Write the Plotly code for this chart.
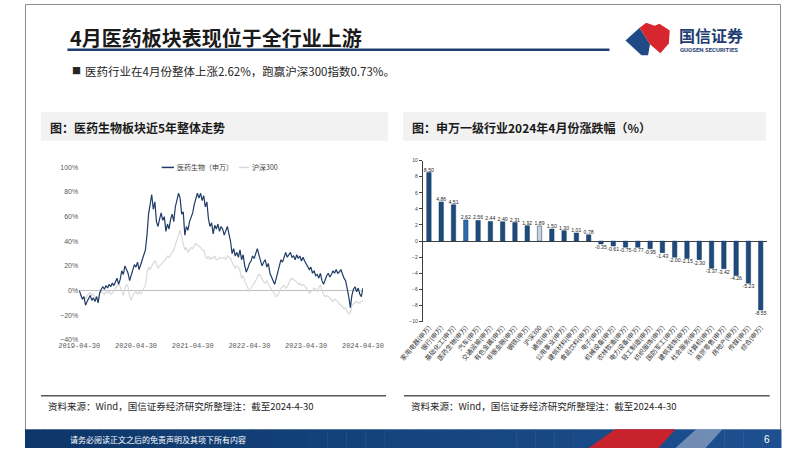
import plotly.graph_objects as go
import pandas as pd

W, H = 802, 451

# ---------------- data ----------------
line_start, line_end = "2019-04-30", "2024-04-30"
x_tick_labels = ["2019-04-30", "2020-04-30", "2021-04-30", "2022-04-30", "2023-04-30", "2024-04-30"]

# cumulative change since 2019-04-30 (%), read roughly three times per month
pharma = [0,
          -3, -7, -5, -12, -9, -7, -4, -8, -6, -9, -5, -10, -2, 1, 3, 1, 4, 2, 5, 3, 6, 4, 8, 10,
          5, 9, 16, 13, 20, 17, 14, 8, 12, 17, 21, 19, 23, 17, 22, 25, 29, 33,
          45, 62, 70, 78, 66, 72, 56, 52, 58, 63, 57, 60, 48, 54, 50, 58, 62, 56,
          68, 74, 79, 75, 62, 64, 45, 52, 49, 56, 60, 63, 70, 74, 79, 75, 79, 73,
          77, 68, 72, 58, 52, 55, 46, 53, 50, 54, 48, 52, 50, 45, 48, 52, 46, 40,
          30, 34, 28, 31, 27, 33, 25, 29, 20, 15, 18, 22, 24, 28, 26, 31, 34, 29,
          24, 20, 23, 25, 19, 22, 14, 10, 8, 5, 10, 15, 20, 25, 23, 28, 31, 27,
          29, 31, 27, 28, 25, 29, 26, 28, 24, 27, 24, 22, 20, 17, 19, 14, 16, 12,
          13, 10, 14, 8, 5, 9, 12, 14, 11, 13, 16, 14, 17, 14, 15, 17, 13, 10,
          8, 2, -5, -14, -4, 1, 3, -1, 2, -3, -5, 2]

hs300 = [0,
         -4, -7, -6, -7, -4, -3, -2, -4, -3, -6, -5, -7, -3, -1, -2, -3, -1, -2, -1, -3, -2, -1, 2, 4,
         5, 3, 0, -4, 2, 5, 3, -5, -8, -4, -2, -1, -3, -1, -3, 0, 2, 4,
         14, 19, 17, 20, 22, 24, 22, 18, 20, 21, 23, 24, 26, 28, 27, 29, 31, 33,
         37, 42, 45, 49, 42, 38, 33, 35, 31, 33, 35, 34, 36, 38, 37, 36, 35, 33,
         33, 28, 26, 28, 25, 27, 26, 28, 25, 25, 27, 26, 26, 27, 25, 28, 27, 26,
         23, 21, 18, 20, 19, 16, 10, 12, 7, 5, 1, -1, 2, 4, 5, 8, 11, 13,
         12, 9, 7, 6, 8, 5, 3, 0, -1, -3, -5, -4, -1, 2, 3, 4, 2, 3,
         6, 9, 10, 9, 8, 7, 5, 6, 4, 5, 4, 2, 0, -2, -1, 0, 2, 1,
         -1, 3, 4, 0, -3, -5, -4, -5, -6, -8, -9, -7, -8, -9, -11, -12, -13, -15,
         -14, -17, -19, -18, -12, -11, -10, -9, -10, -10, -9, -8]

industries = ["家用电器(申万)", "银行(申万)", "基础化工(申万)", "医药生物(申万)", "汽车(申万)",
              "交通运输(申万)", "有色金属(申万)", "非银金融(申万)", "钢铁(申万)", "沪深300",
              "通信(申万)", "公用事业(申万)", "建筑材料(申万)", "食品饮料(申万)", "电子(申万)",
              "机械设备(申万)", "农林牧渔(申万)", "电力设备(申万)", "轻工制造(申万)", "纺织服饰(申万)",
              "国防军工(申万)", "建筑装饰(申万)", "社会服务(申万)", "计算机(申万)", "商贸零售(申万)",
              "房地产(申万)", "传媒(申万)", "综合(申万)"]
changes = [8.50, 4.86, 4.51, 2.62, 2.56, 2.44, 2.40, 2.31, 1.92, 1.89, 1.50, 1.30, 1.01, 0.78,
           -0.35, -0.61, -0.75, -0.77, -0.95, -1.43, -2.00, -2.15, -2.30, -3.37, -3.42, -4.26, -5.23, -8.55]

dates = pd.date_range(line_start, line_end, periods=len(pharma))


def X(px):
    return px / W


def Y(py):
    return 1 - py / H


CJK = "Noto Sans CJK SC"
NAVY = "#1F3B66"

fig = go.Figure()
fig.add_trace(go.Scatter(x=dates, y=hs300, mode="lines", name="沪深300",
                         line=dict(color="#D9D9D9", width=1.2), xaxis="x", yaxis="y"))
fig.add_trace(go.Scatter(x=dates, y=pharma, mode="lines", name="医药生物（申万）",
                         line=dict(color=NAVY, width=1.2), xaxis="x", yaxis="y"))

bar_colors = []
for name in industries:
    if name == "沪深300":
        bar_colors.append("#C8D0DB")
    elif name.startswith("医药生物"):
        bar_colors.append("#2F6BAF")
    else:
        bar_colors.append("#1F4A7C")

fig.add_trace(go.Bar(x=industries, y=changes, xaxis="x2", yaxis="y2",
                     marker=dict(color=bar_colors, line=dict(color="#173a63", width=0.5)),
                     text=[f"{v:.2f}" for v in changes], textposition="outside",
                     textfont=dict(size=5.2, color="#262626", family="Arial"),
                     constraintext="none", cliponaxis=False))

shapes = []
annotations = []

# slide frame
shapes.append(dict(type="rect", xref="paper", yref="paper", x0=X(0.5), x1=X(801.5), y0=Y(450.5), y1=Y(0.5),
                   line=dict(color="#8C8C8C", width=1), fillcolor="rgba(0,0,0,0)", layer="below"))

# title + underline
annotations.append(dict(text="<b>4月医药板块表现位于全行业上游</b>", x=X(46), y=Y(34), xref="paper", yref="paper",
                        xanchor="left", yanchor="middle", showarrow=False,
                        font=dict(family=CJK, size=20, color="#1A1A1A")))
shapes.append(dict(type="line", xref="paper", yref="paper", x0=X(45), x1=X(620), y0=Y(46.5), y1=Y(46.5),
                   line=dict(color="#1F3F73", width=2.5)))


# logo
def path(points):
    return "M " + " L ".join(f"{X(a):.5f},{Y(b):.5f}" for a, b in points) + " Z"


shapes.append(dict(type="path", xref="paper", yref="paper",
                   path=path([(637, 37), (652, 24), (663, 41), (661, 52), (654, 52)]),
                   fillcolor="#1F4A85", line=dict(width=0)))
shapes.append(dict(type="path", xref="paper", yref="paper",
                   path=path([(652, 24), (659, 19), (668, 22), (673, 20), (684, 27), (683, 40), (674, 50), (663, 41)]),
                   fillcolor="#D7262E", line=dict(width=0)))
annotations.append(dict(text="<b>国信证券</b>", x=X(692), y=Y(31), xref="paper", yref="paper",
                        xanchor="left", yanchor="middle", showarrow=False,
                        font=dict(family=CJK, size=16, color="#1F3F73")))
annotations.append(dict(text="<b>GUOSEN SECURITIES</b>", x=X(693), y=Y(46), xref="paper", yref="paper",
                        xanchor="left", yanchor="middle", showarrow=False,
                        font=dict(family="Roboto", size=6, color="#1F3F73")))

# bullet
annotations.append(dict(text="■", x=X(48), y=Y(68), xref="paper", yref="paper", xanchor="left", yanchor="middle",
                        showarrow=False, font=dict(family=CJK, size=9, color="#262626")))
annotations.append(dict(text="医药行业在4月份整体上涨2.62%，跑赢沪深300指数0.73%。", x=X(62), y=Y(68),
                        xref="paper", yref="paper", xanchor="left", yanchor="middle", showarrow=False,
                        font=dict(family=CJK, size=11.5, color="#262626")))

# panel headers
for x0, x1, label in [(17, 385, "<b>图：医药生物板块近5年整体走势</b>"),
                      (401, 786, "<b>图：申万一级行业2024年4月份涨跌幅（%）</b>")]:
    shapes.append(dict(type="rect", xref="paper", yref="paper", x0=X(x0), x1=X(x1), y0=Y(139), y1=Y(110),
                       fillcolor="#F2F2F2", line=dict(width=0), layer="below"))
    annotations.append(dict(text=label, x=X(x0 + 7), y=Y(125), xref="paper", yref="paper", xanchor="left",
                            yanchor="middle", showarrow=False, font=dict(family=CJK, size=12, color="#1A1A1A")))

# source lines
for x0, x1 in [(17, 383), (402, 790)]:
    shapes.append(dict(type="line", xref="paper", yref="paper", x0=X(x0), x1=X(x1), y0=Y(398), y1=Y(398),
                       line=dict(color="#595959", width=1.5)))
    annotations.append(dict(text="资料来源：Wind，国信证券经济研究所整理注：截至2024-4-30", x=X(x0 + 5), y=Y(408),
                            xref="paper", yref="paper", xanchor="left", yanchor="middle", showarrow=False,
                            font=dict(family=CJK, size=9.5, color="#262626")))

# legend (manual)
shapes.append(dict(type="line", xref="paper", yref="paper", x0=X(145), x1=X(158), y0=Y(166), y1=Y(166),
                   line=dict(color=NAVY, width=1.5)))
annotations.append(dict(text="医药生物（申万）", x=X(159), y=Y(166), xref="paper", yref="paper", xanchor="left",
                        yanchor="middle", showarrow=False, font=dict(family=CJK, size=7, color="#404040")))
shapes.append(dict(type="line", xref="paper", yref="paper", x0=X(227), x1=X(238), y0=Y(166), y1=Y(166),
                   line=dict(color="#D9D9D9", width=1.5)))
annotations.append(dict(text="沪深300", x=X(239), y=Y(166), xref="paper", yref="paper", xanchor="left",
                        yanchor="middle", showarrow=False, font=dict(family=CJK, size=7, color="#404040")))

# footer bar with gradient
n = 40
c0, c1 = (13, 55, 105), (30, 80, 145)
for i in range(n):
    t = i / (n - 1)
    col = tuple(int(c0[k] + (c1[k] - c0[k]) * t) for k in range(3))
    shapes.append(dict(type="rect", xref="paper", yref="paper", x0=X(i * W / n), x1=X((i + 1) * W / n + 0.5),
                       y0=Y(451), y1=Y(432), fillcolor=f"rgb{col}", line=dict(width=0)))
shapes.append(dict(type="path", xref="paper", yref="paper",
                   path=path([(598, 451), (626, 432), (690, 432), (672, 451)]),
                   fillcolor="#C8232C", line=dict(width=0)))
shapes.append(dict(type="path", xref="paper", yref="paper",
                   path=path([(690, 451), (712, 432), (740, 432), (722, 451)]),
                   fillcolor="#A8B8D0", line=dict(width=0), opacity=0.6))
annotations.append(dict(text="请务必阅读正文之后的免责声明及其项下所有内容", x=X(46), y=Y(442), xref="paper",
                        yref="paper", xanchor="left", yanchor="middle", showarrow=False,
                        font=dict(family=CJK, size=8, color="#FFFFFF")))
annotations.append(dict(text="6", x=X(787), y=Y(442), xref="paper", yref="paper", xanchor="center",
                        yanchor="middle", showarrow=False, font=dict(family="Arial", size=10, color="#FFFFFF")))

fig.update_layout(
    width=W, height=H, margin=dict(l=0, r=0, t=0, b=0), autosize=False,
    paper_bgcolor="white", plot_bgcolor="rgba(0,0,0,0)", showlegend=False,
    bargap=0.64,
    shapes=shapes, annotations=annotations,
    xaxis=dict(domain=[X(57.5), X(358.5)], anchor="y", type="date", range=[line_start, line_end],
               tickvals=x_tick_labels, ticktext=x_tick_labels, showgrid=False, showline=False, ticks="",
               zeroline=False, tickfont=dict(family="Liberation Mono", size=7, color="#595959")),
    yaxis=dict(domain=[Y(341), Y(166)], anchor="x", range=[-40, 100], dtick=20, ticksuffix="%",
               showgrid=False, showline=False, ticks="", zeroline=True, zerolinecolor="#BFBFBF",
               zerolinewidth=1, tickfont=dict(family="Arial", size=7, color="#595959")),
    xaxis2=dict(domain=[X(422), X(787)], anchor="y2", type="category", tickangle=-50, showgrid=False,
                showline=False, ticks="", tickfont=dict(family=CJK, size=6.5, color="#333333")),
    yaxis2=dict(domain=[Y(322.7), Y(159)], anchor="x2", range=[-10, 10], dtick=2, showgrid=False,
                showline=True, linecolor="#404040", linewidth=1, ticks="outside", ticklen=3,
                tickcolor="#404040", zeroline=True, zerolinecolor="#404040", zerolinewidth=1,
                tickfont=dict(family="Arial", size=5, color="#404040")),
)

fig.write_html("out.html", config={"displayModeBar": False},
               post_script="document.body.style.margin='0';document.body.style.overflow='hidden';")
